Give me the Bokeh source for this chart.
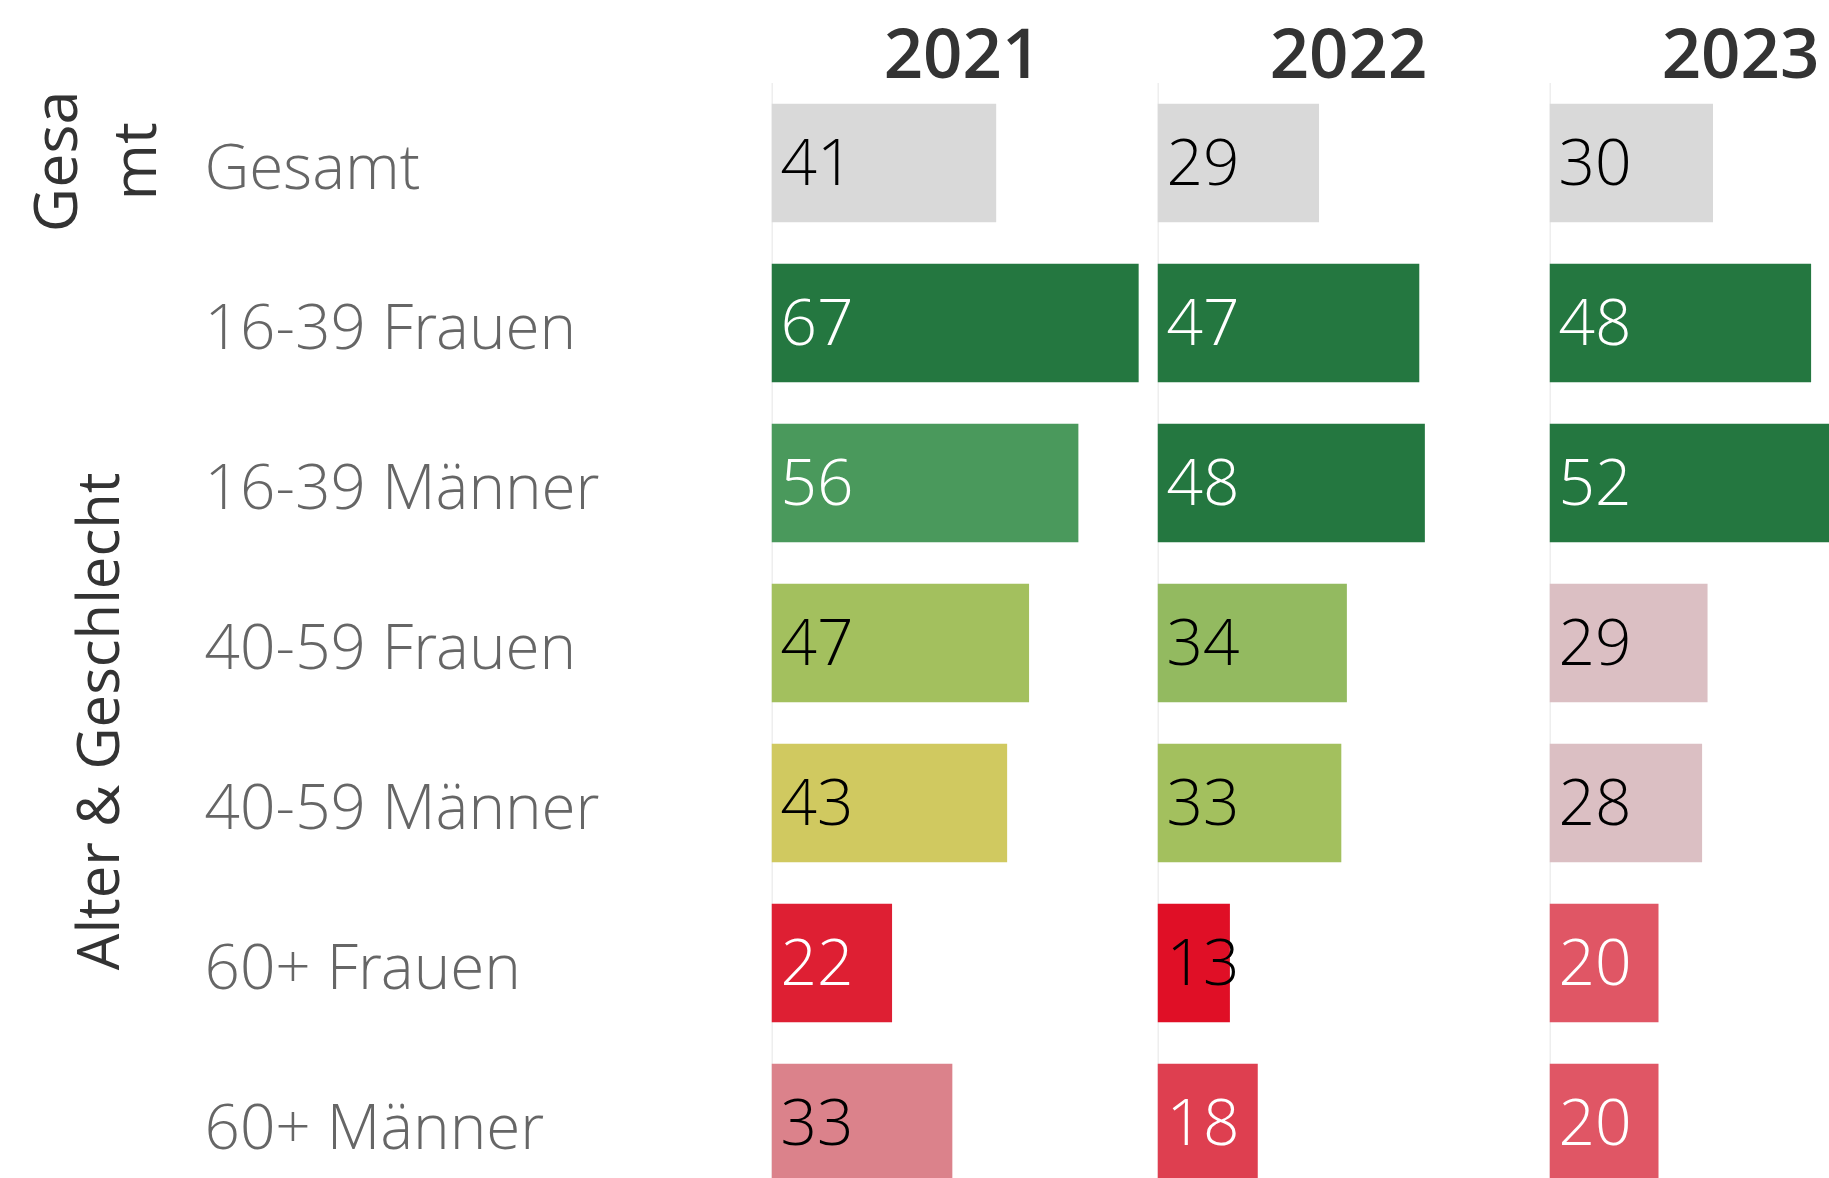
from bokeh.plotting import figure
from bokeh.layouts import row
from bokeh.models import Range1d, ColumnDataSource
from bokeh.core.properties import value
from bokeh.embed import file_html
from bokeh.resources import INLINE

# ---------------- data ----------------
categories = ["Gesamt", "16-39 Frauen", "16-39 Männer", "40-59 Frauen",
              "40-59 Männer", "60+ Frauen", "60+ Männer"]
years = ["2021", "2022", "2023"]
values_2021 = [41, 67, 56, 47, 43, 22, 33]
values_2022 = [29, 47, 48, 34, 33, 13, 18]
values_2023 = [30, 48, 52, 29, 28, 20, 20]
group_titles = ["Gesa", "mt", "Alter & Geschlecht"]

# ---------------- styles ----------------
bar_colors = {
    "2021": ["#d9d9d9", "#247740", "#4a995c", "#a3c05e", "#d0c960", "#de1f33", "#db828b"],
    "2022": ["#d9d9d9", "#247740", "#247740", "#93ba60", "#a3c05e", "#e00f26", "#de3f50"],
    "2023": ["#d9d9d9", "#247740", "#247740", "#dbbfc3", "#dbbfc3", "#e05665", "#e05665"],
}
label_colors = {
    "2021": ["black", "white", "white", "black", "black", "white", "black"],
    "2022": ["black", "white", "white", "black", "black", "black", "white"],
    "2023": ["black", "white", "white", "black", "black", "white", "white"],
}
LIGHT = "'Open Sans Light', 'Open Sans', sans-serif"
MEDIUM = "'Open Sans Medium', 'Open Sans', sans-serif"
SEMI = "'Open Sans SemiBold', 'Open Sans', sans-serif"

PX_PER_UNIT = {"2021": 5.48, "2022": 5.57, "2023": 5.45}
ROW_PX = 160.0
H = 1178
TOP = -162.5 / ROW_PX
shared_y = Range1d(start=TOP + H / ROW_PX, end=TOP)
BASE_FIX = 24.0  # px correction for alphabetic baseline placement

rows_idx = list(range(len(categories)))


def base_fig(width, x_range):
    p = figure(width=width, height=H, x_range=x_range, y_range=shared_y,
               output_backend="svg", toolbar_location=None,
               x_axis_type=None, y_axis_type=None, min_border=0,
               outline_line_color=None, background_fill_color="white",
               border_fill_color="white")
    p.grid.visible = False
    return p


# ---------------- left label column ----------------
left = base_fig(771, Range1d(0, 771))
left.text(x=[204] * len(categories),
          y=[i + (26 - BASE_FIX) / ROW_PX for i in rows_idx],
          text=categories, text_font=value(LIGHT), text_font_size="62px",
          text_color="#666666", text_align="left", text_baseline="alphabetic")
left.text(x=[78 - 25, 157 - 25], y=[-0.01, -0.01], text=group_titles[:2],
          text_font=value(MEDIUM), text_font_size="61px",
          text_color="#333333", text_align="center", text_baseline="alphabetic",
          angle=1.5708)
left.text(x=[121 - 25], y=[3.49], text=group_titles[2:],
          text_font=value(MEDIUM), text_font_size="58px",
          text_color="#333333", text_align="center", text_baseline="alphabetic",
          angle=1.5708)

# ---------------- year panels ----------------
panel_widths = [386, 392, 280]
all_values = [values_2021, values_2022, values_2023]
panels = []
for yr, vals, w in zip(years, all_values, panel_widths):
    ppu = PX_PER_UNIT[yr]
    p = base_fig(w, Range1d(0, w / ppu))
    p.segment(x0=[0], y0=[-0.5], x1=[0], y1=[len(categories) + 1],
              line_color="#eeeeee", line_width=3)
    src = ColumnDataSource(dict(
        y=rows_idx, v=vals, color=bar_colors[yr], lc=label_colors[yr],
        txt=[str(v) for v in vals],
        lx=[9 / ppu] * len(vals),
        ly=[i + (23 - BASE_FIX) / ROW_PX for i in rows_idx]))
    p.hbar(y="y", left=0, right="v", height=118.3 / ROW_PX, fill_color="color",
           line_color=None, source=src)
    p.text(x="lx", y="ly", text="txt", text_color="lc", source=src,
           text_font=value(LIGHT), text_font_size="64px",
           text_align="left", text_baseline="alphabetic")
    p.text(x=[191 / ppu], y=[(76 - BASE_FIX - 162.5) / ROW_PX], text=[yr],
           text_font=value(SEMI), text_font_size="69px", text_color="#333333",
           text_align="center", text_baseline="alphabetic")
    panels.append(p)

layout = row([left] + panels, spacing=0)
open("out.html", "w").write(file_html(layout, INLINE))
